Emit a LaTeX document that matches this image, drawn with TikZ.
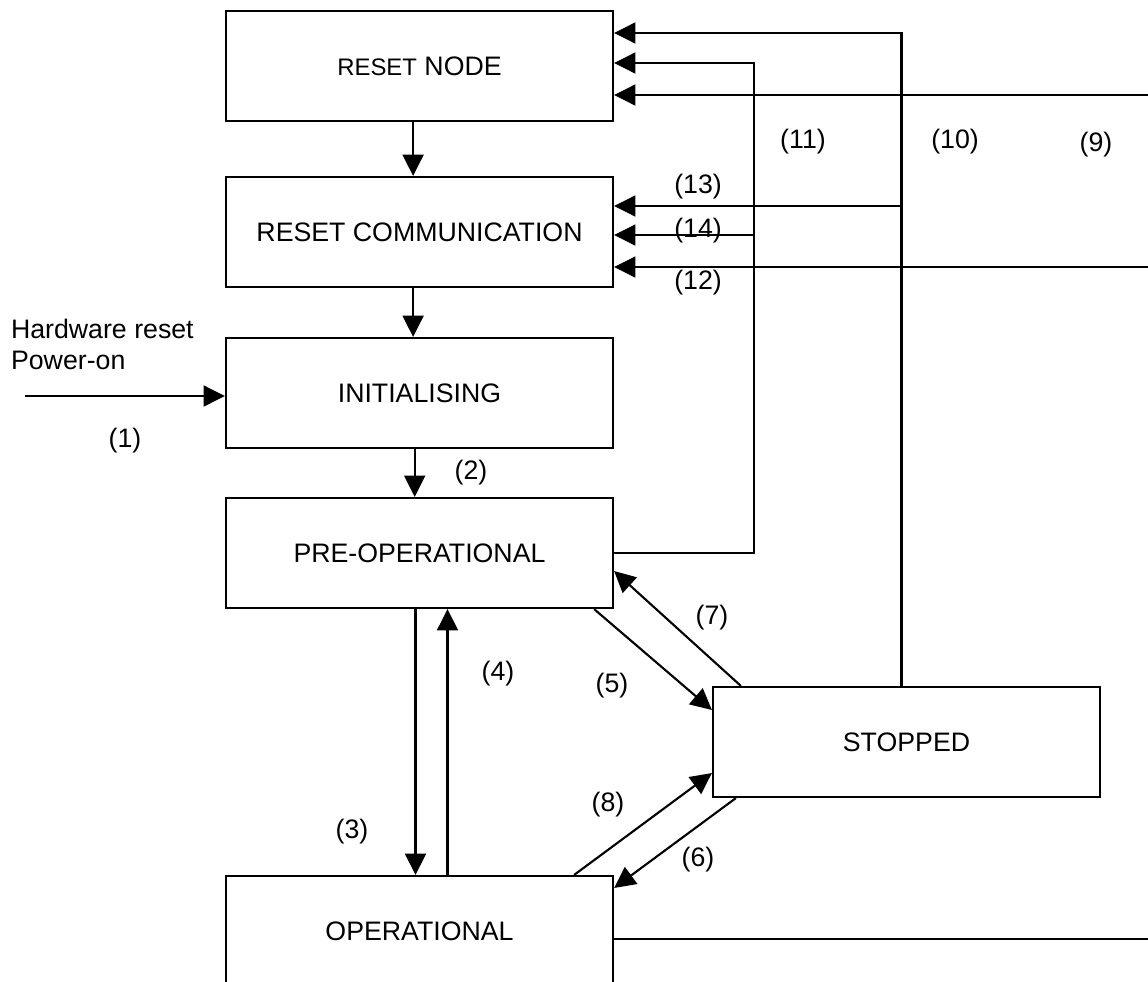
\documentclass[tikz,border=0pt]{standalone}
\usepackage{fontspec}
\setmainfont{Liberation Sans}
\usetikzlibrary{arrows.meta}

\begin{document}
\begin{tikzpicture}[x=0.025cm,y=-0.025cm,line width=1.5pt,
state/.style={draw,minimum width=9.675cm,minimum height=2.75cm,inner sep=0pt,font=\fontsize{19}{22}\selectfont},
lbl/.style={font=\fontsize{19}{22}\selectfont,inner sep=0pt},
arr/.style={-{Triangle[length=0.53cm,width=0.52cm]}}]
\useasboundingbox (0,0) rectangle (1148,981);
\node[state] (resetnode) at (419.5,66) {{\fontsize{17}{20}\selectfont RESET} NODE};
\node[state] (resetcomm) at (419.5,232) {RESET COMMUNICATION};
\node[state] (init) at (419.5,393) {INITIALISING};
\node[state] (preop) at (419.5,553) {PRE-OPERATIONAL};
\node[state] (stopped) at (906.5,742) {STOPPED};
\node[state] (op) at (419.5,931) {OPERATIONAL};
\node[lbl,align=left,anchor=west] (hwreset) at (10,344) {Hardware reset\\Power-on};
\coordinate (hw) at (25,396);
\coordinate (rim9) at (1148,95);
\coordinate (rim12) at (1148,267);
\coordinate (rimop) at (1148,939);
\coordinate (t10) at ([xshift=-0.125cm]stopped.north);
\coordinate (c11) at ([xshift=3.5cm]preop.east);
\coordinate (in13) at ([yshift=0.65cm]resetcomm.east);
\coordinate (in14) at ([yshift=-0.075cm]resetcomm.east);
\draw[arr] ([xshift=-0.16cm]resetnode.south) -- ([xshift=-0.16cm]resetcomm.north);
\draw[arr] ([xshift=-0.16cm]resetcomm.south) -- ([xshift=-0.16cm]init.north);
\draw[arr] (hw) -- (init.west |- hw);
\draw[arr] ([xshift=-0.12cm]init.south) -- ([xshift=-0.12cm]preop.north);
\draw[arr] ([xshift=-0.1cm]preop.south) -- ([xshift=-0.1cm]op.north);
\draw[arr] ([xshift=0.7cm]op.north) -- ([xshift=0.7cm]preop.south);
\draw[arr] ([xshift=-0.5cm]preop.south east) -- ([yshift=0.8cm]stopped.west);
\draw[arr] ([xshift=0.6cm]stopped.south west) -- ([yshift=1.075cm]op.east);
\draw[arr] ([xshift=0.725cm]stopped.north west) -- ([yshift=-0.45cm]preop.east);
\draw[arr] ([xshift=-1cm]op.north east) -- ([yshift=-0.775cm]stopped.west);
\draw[arr] (rim9) -- (resetnode.east |- rim9);
\draw[arr] (t10) |- ([yshift=0.825cm]resetnode.east);
\draw[arr] (preop.east) -- (c11) |- ([yshift=0.075cm]resetnode.east);
\draw[arr] (rim12) -- (resetcomm.east |- rim12);
\draw[arr] (t10 |- in13) -- (in13);
\draw[arr] (c11 |- in14) -- (in14);
\draw (op.east |- rimop) -- (rimop);
\node[lbl] (l1) at (125,441) {(1)};
\node[lbl] (l2) at (471,473) {(2)};
\node[lbl] (l3) at (352,832) {(3)};
\node[lbl] (l4) at (498,674) {(4)};
\node[lbl] (l5) at (612,686) {(5)};
\node[lbl] (l6) at (698,860) {(6)};
\node[lbl] (l7) at (712,618) {(7)};
\node[lbl] (l8) at (608,805) {(8)};
\node[lbl] (l9) at (1096,145) {(9)};
\node[lbl] (l10) at (955,142) {(10)};
\node[lbl] (l11) at (803,142) {(11)};
\node[lbl] (l12) at (698,283) {(12)};
\node[lbl] (l13) at (698,187) {(13)};
\node[lbl] (l14) at (698,231) {(14)};
\end{tikzpicture}
\end{document}
